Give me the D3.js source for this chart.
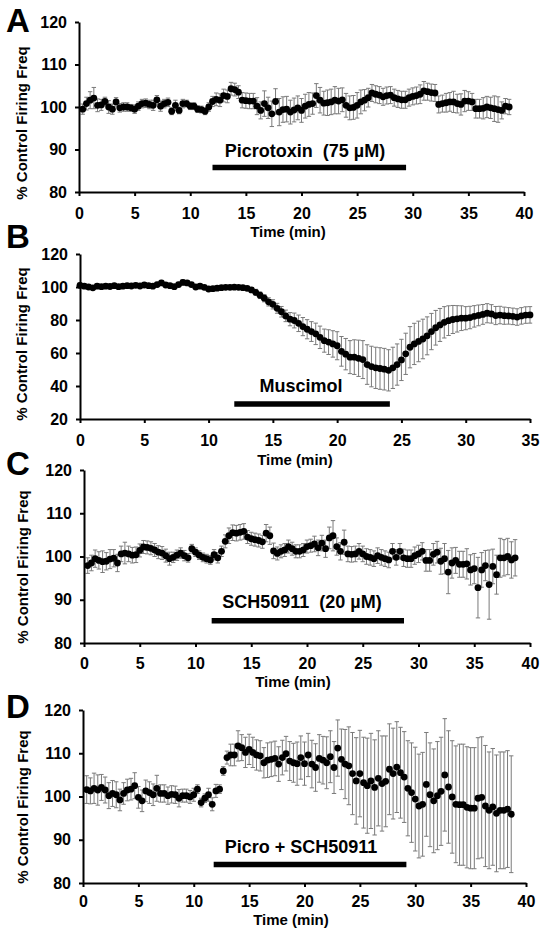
<!DOCTYPE html>
<html><head><meta charset="utf-8">
<script src="https://cdn.jsdelivr.net/npm/d3@7"></script>
<style>
body{margin:0;background:#fff}
svg{display:block}
text{font-family:"Liberation Sans",Arial,sans-serif;font-weight:bold;fill:#000}
</style>
</head><body><svg id="chart" width="545" height="936"></svg>
<script>
// ---- data ----
const panelLetters = ["A","B","C","D"];
const sampleStepMin = 1/3;
const xTicks40 = [0,5,10,15,20,25,30,35,40];
const xTicks35 = [0,5,10,15,20,25,30,35];
const yTicks80_120 = [80,90,100,110,120];
const yTicks20_120 = [20,40,60,80,100,120];
const xTitle = "Time (min)";
const yTitle = "% Control Firing Freq";
const drugLabels = ["Picrotoxin  (75 \u00b5M)","Muscimol","SCH50911  (20 \u00b5M)","Picro + SCH50911"];
const drugPeriods = [[12,29.4],[12,24.1],[11.45,28.7],[11.8,29.2]];

const valuesA = [
99.5,100.8,101.6,102.1,100.4,100.5,101.3,100.0,99.5,101.2,
99.8,100.0,100.0,99.8,99.5,100.2,100.8,100.9,100.6,100.4,
101.7,100.2,100.8,101.1,99.0,100.4,99.2,100.8,100.8,100.2,
100.2,99.5,99.4,99.0,100.0,101.3,101.8,101.6,102.7,102.5,
104.3,104.1,103.5,101.6,101.5,101.4,101.4,100.2,99.2,100.8,
99.8,98.4,101.3,98.8,99.4,99.5,98.8,99.3,99.8,99.2,
100.2,100.6,100.8,102.7,101.6,100.9,101.0,101.2,101.6,101.4,
101.7,100.4,99.8,99.9,100.4,101.2,101.6,102.2,103.3,103.0,
102.8,102.4,102.7,102.8,102.2,101.9,101.7,101.7,102.2,102.5,
102.7,103.0,103.8,103.6,103.4,103.3,100.6,100.8,101.0,101.2,
101.2,100.8,100.6,101.4,101.4,101.2,99.6,99.6,99.7,100.0,
99.8,99.6,99.4,99.2,100.2,100.0];
const errorsA = [
1.2,1.5,2.0,2.5,1.5,1.3,1.0,1.5,1.2,1.0,
1.0,1.0,1.0,0.8,1.0,1.0,1.0,1.0,1.0,1.2,
1.0,1.2,1.0,1.0,0.8,1.2,0.8,1.0,0.8,0.8,
0.8,0.8,0.8,0.8,1.0,1.2,1.5,1.5,1.5,1.5,
1.5,1.5,1.5,1.8,1.8,1.8,1.8,2.0,2.0,3.0,
2.5,3.0,3.0,3.2,3.0,3.0,2.8,2.8,2.8,2.8,
2.8,2.8,2.5,2.8,3.0,2.8,3.0,3.0,3.2,3.0,
2.8,2.8,2.8,2.8,3.0,2.8,2.5,2.2,2.0,2.0,
2.0,2.0,2.0,2.0,2.0,2.0,2.0,2.0,2.0,2.0,
2.0,2.2,2.2,2.0,2.0,2.0,2.0,2.0,2.2,2.2,
2.5,2.2,2.5,2.5,2.2,2.0,2.2,2.2,2.5,2.5,
2.5,3.0,3.0,2.0,1.8,1.8];

const valuesB = [
101,100.5,100,99.5,100.5,100.2,100.5,100.3,100.8,100.2,
100.5,100.8,100.6,101,100.6,101.2,100.8,100.5,101.5,102.5,
101.2,100.8,100.2,101.5,102.8,102.5,101.5,100,100.5,99.8,
98.8,99,99.3,99.6,99.8,99.8,99.9,99.8,99.6,99.2,
98.2,96.8,95.0,93.2,91.0,89.5,87.1,85.0,82.5,80.5,
79.7,78.0,76.0,74.4,73.0,71.6,69.5,67.5,66.6,65.5,
64.4,61.0,59.3,57.5,57.5,56.8,56.0,53.0,51.8,51.0,
50.6,50.2,49.5,51.0,53.0,55.8,59.5,63.5,65.5,67.0,
68.5,70.4,73.0,75.3,77.0,78.6,79.6,80.3,80.7,81.1,
81.1,81.5,82.2,82.8,83.4,84.1,83.7,82.7,83.0,82.6,
82.5,82.2,81.8,82.5,83.0,83.1];
const errorsB = [
1.5,1.3,1.2,1.2,1.3,1.2,1.3,1.2,1.3,1.2,
1.2,1.3,1.2,1.3,1.2,1.5,1.2,1.2,1.3,1.5,
1.2,1.2,1.2,1.3,1.5,1.3,1.2,1.2,1.2,1.2,
1.2,1.0,1.0,1.0,1.0,1.0,1.0,1.0,1.0,1.2,
1.5,1.8,2.0,2.2,2.5,2.8,3.0,3.2,3.5,4.0,
4.5,5.0,5.5,5.8,6.0,6.5,6.8,7.0,7.5,8.0,
8.5,9.0,9.5,10.0,10.5,11.0,11.5,12.0,12.3,12.5,
12.6,12.6,12.5,12.5,12.5,12.5,12.5,12.5,12.5,12.3,
12.0,11.5,11.0,10.5,10.0,9.5,9.0,8.5,8.0,7.5,
7.0,6.8,6.5,6.3,6.0,5.8,5.6,5.5,5.3,5.2,
5.0,5.0,5.0,5.0,5.0,5.0];

const valuesC = [
97.9,98.5,99.5,99.1,98.8,98.9,99.4,99.6,98.5,100.6,
100.8,100.6,100.3,100.4,101.4,102.2,102.1,101.9,101.5,101.0,
100.8,100.2,99.5,99.8,100.3,100.8,100.2,99.7,101.8,101.0,
100.3,99.8,99.5,99.2,100.4,99.7,101.2,103.5,104.8,105.5,
105.4,105.6,105.8,104.5,104.1,103.9,103.7,103.4,105.4,104.8,
101.3,100.7,101.2,101.5,102.3,101.8,101.2,101.2,101.5,102.3,
102.5,102.9,102.0,103.1,101.8,104.3,104.8,102.3,101.2,103.3,
100.6,100.5,100.6,101.2,100.6,100.0,99.8,99.5,100.2,99.8,
99.5,99.2,101.2,99.8,101.2,99.7,99.5,99.5,100.2,100.6,
101.2,99.1,99.1,100.5,101.0,98.9,99.5,96.4,98.5,99.1,
98.2,98.2,98.3,96.9,97.2,92.8,96.9,97.9,93.5,97.7,
95.8,99.7,99.7,100.0,99.2,99.7];
const errorsC = [
1.8,1.8,2.0,2.0,2.5,2.0,2.2,2.0,2.0,1.8,
2.5,1.8,1.8,1.8,1.5,1.5,1.5,1.5,1.5,1.5,
1.5,1.5,1.5,1.2,1.2,1.2,1.2,1.0,1.0,1.0,
1.0,1.0,1.0,1.0,1.2,1.2,1.2,1.5,1.8,1.8,
1.8,1.8,1.8,1.5,1.5,1.5,1.5,1.5,2.0,2.0,
1.8,1.5,1.5,1.5,1.5,1.5,1.5,1.5,1.5,1.5,
1.5,1.8,1.8,1.8,2.0,2.5,3.5,2.0,2.0,2.8,
1.8,1.8,1.8,1.8,1.8,1.8,1.8,1.8,1.8,1.8,
1.8,1.8,1.8,1.8,1.8,2.0,2.0,2.0,2.0,2.0,
2.0,2.5,2.5,2.5,2.5,3.0,3.5,5.0,3.5,3.0,
3.0,3.0,3.5,3.5,3.5,7.0,4.0,3.5,8.0,4.0,
4.5,4.5,4.2,4.2,4.2,4.2];

const valuesD = [
101.6,101.3,101.9,101.5,102.1,101.5,100.2,100.7,100.4,99.2,
100.7,101.5,101.7,102.5,99.8,99.0,101.3,100.9,100.4,101.9,
100.7,100.7,100.2,100.5,100.4,99.6,100.2,100.2,99.9,100.4,
101.7,98.6,99.6,100.4,98.2,101.3,101.7,105.9,109.0,109.6,
109.6,111.7,111.3,110.2,110.9,110.2,109.6,109.4,107.8,108.4,
108.6,108.8,107.5,109.0,109.9,108.2,107.8,107.6,109.0,107.6,
109.6,107.5,106.7,108.8,108.4,107.8,109.2,106.7,111.2,108.6,
107.5,107.1,105.3,103.6,105.3,103.2,102.5,103.6,102.1,104.2,
103.0,103.5,106.3,105.3,106.8,105.5,104.5,101.9,100.9,99.4,
97.8,98.2,102.8,100.4,99.0,100.2,101.2,105.0,102.2,99.9,
98.2,98.1,98.1,97.5,97.3,97.3,99.6,99.8,97.8,96.8,
97.6,96.1,96.8,96.8,97.1,95.9];
const errorsD = [
3.2,3.0,3.5,3.5,3.0,3.0,3.0,3.0,3.0,2.5,
2.5,2.5,2.5,3.0,2.5,2.5,2.5,2.5,2.5,3.0,
2.0,2.0,2.0,2.0,2.0,2.0,1.5,1.5,1.5,1.5,
1.0,1.0,1.0,1.5,1.5,1.5,1.0,1.0,1.5,2.5,
2.5,3.5,3.0,3.5,3.5,3.5,3.5,3.5,3.5,4.0,
4.0,4.0,4.0,4.0,4.0,4.5,4.5,5.0,5.0,5.0,
5.0,5.5,5.5,5.5,5.5,6.0,6.0,6.0,6.5,7.0,
8.0,9.0,9.5,10.0,10.0,10.5,11.0,11.0,11.0,11.0,
11.0,10.5,10.5,10.5,10.5,10.5,10.5,11.0,11.5,12.0,
12.0,12.0,12.0,12.0,12.0,12.5,12.5,13.0,13.0,13.0,
13.5,14.0,14.0,14.0,14.0,14.0,14.0,14.0,14.0,13.5,
13.5,13.5,13.5,13.5,13.5,13.5];

// first sample time (min) per panel
const firstSample = [1/3, 0, 1/3, 1/3];

// ---- layout (pixels) ----
const layout = [
  {x0:79, x1:524, y0:22,  y1:192, letter:[6,32],  yLab:[22,123], xLab:[288,237],   tickPad:12,   barY:167.5, drugTxt:[305,157], xMax:40, xTicks:xTicks40, yDom:[80,120], yTicks:yTicks80_120},
  {x0:80, x1:530, y0:254, y1:419, letter:[6,248], yLab:[22,344], xLab:[295,464.5], tickPad:12,   barY:404,   drugTxt:[301,392], xMax:35, xTicks:xTicks35, yDom:[20,120], yTicks:yTicks20_120},
  {x0:84, x1:530, y0:470, y1:643, letter:[6,475], yLab:[23,567], xLab:[293,686.5], tickPad:10.5, barY:620.7, drugTxt:[302,608], xMax:40, xTicks:xTicks40, yDom:[80,120], yTicks:yTicks80_120},
  {x0:83, x1:526, y0:710, y1:883, letter:[6,718], yLab:[23,807], xLab:[291,925],   tickPad:8.5,  barY:864.5, drugTxt:[301,853], xMax:40, xTicks:xTicks40, yDom:[80,120], yTicks:yTicks80_120}
];
const seriesValues = [valuesA, valuesB, valuesC, valuesD];
const seriesErrors = [errorsA, errorsB, errorsC, errorsD];

const svg = d3.select("#chart");

layout.forEach((L, p) => {
  const x = d3.scaleLinear().domain([0, L.xMax]).range([L.x0, L.x1]);
  const y = d3.scaleLinear().domain(L.yDom).range([L.y1, L.y0]);
  const g = svg.append("g");
  const pts = seriesValues[p].map((v, i) => ({t: firstSample[p] + i * sampleStepMin, v, e: seriesErrors[p][i]}));

  // error bars
  const eb = g.append("g").attr("stroke", "#7a7a7a").attr("stroke-width", 1).attr("fill", "none");
  pts.forEach(d => {
    const cx = x(d.t);
    eb.append("line").attr("x1", cx).attr("x2", cx).attr("y1", y(d.v + d.e)).attr("y2", y(d.v - d.e));
    eb.append("line").attr("x1", cx - 2.2).attr("x2", cx + 2.2).attr("y1", y(d.v + d.e)).attr("y2", y(d.v + d.e));
    eb.append("line").attr("x1", cx - 2.2).attr("x2", cx + 2.2).attr("y1", y(d.v - d.e)).attr("y2", y(d.v - d.e));
  });

  // axes
  const ax = g.append("g").attr("transform", `translate(0,${L.y1})`)
    .call(d3.axisBottom(x).tickValues(L.xTicks).tickSize(4).tickSizeOuter(0).tickPadding(L.tickPad));
  const ay = g.append("g").attr("transform", `translate(${L.x0},0)`)
    .call(d3.axisLeft(y).tickValues(L.yTicks).tickSize(4).tickSizeOuter(0).tickPadding(8));
  [ax, ay].forEach(a => {
    a.select(".domain").attr("stroke", "#000").attr("stroke-width", 2);
    a.selectAll(".tick line").attr("stroke", "#000").attr("stroke-width", 2);
    a.selectAll(".tick text").attr("font-size", 16).attr("font-family", '"Liberation Sans",Arial,sans-serif').attr("font-weight", "bold").attr("fill", "#000");
  });

  // dots
  g.append("g").selectAll("circle").data(pts).join("circle")
    .attr("cx", d => x(d.t)).attr("cy", d => y(d.v)).attr("r", 3.4).attr("fill", "#000");

  // drug bar
  g.append("line").attr("x1", x(drugPeriods[p][0])).attr("x2", x(drugPeriods[p][1]))
    .attr("y1", L.barY).attr("y2", L.barY).attr("stroke", "#000").attr("stroke-width", 5.5);
  g.append("text").attr("x", L.drugTxt[0]).attr("y", L.drugTxt[1]).attr("text-anchor", "middle")
    .attr("font-size", 18).style("white-space", "pre").attr("xml:space", "preserve").text(drugLabels[p]);

  // titles
  g.append("text").attr("x", L.xLab[0]).attr("y", L.xLab[1]).attr("text-anchor", "middle").attr("font-size", 15).text(xTitle);
  g.append("text").attr("transform", `translate(${L.yLab[0]},${L.yLab[1]}) rotate(-90)`).attr("dy", "0.35em")
    .attr("text-anchor", "middle").attr("font-size", 15).text(yTitle);
  g.append("text").attr("x", L.letter[0]).attr("y", L.letter[1]).attr("font-size", 33).text(panelLetters[p]);
});
</script>
</body></html>
